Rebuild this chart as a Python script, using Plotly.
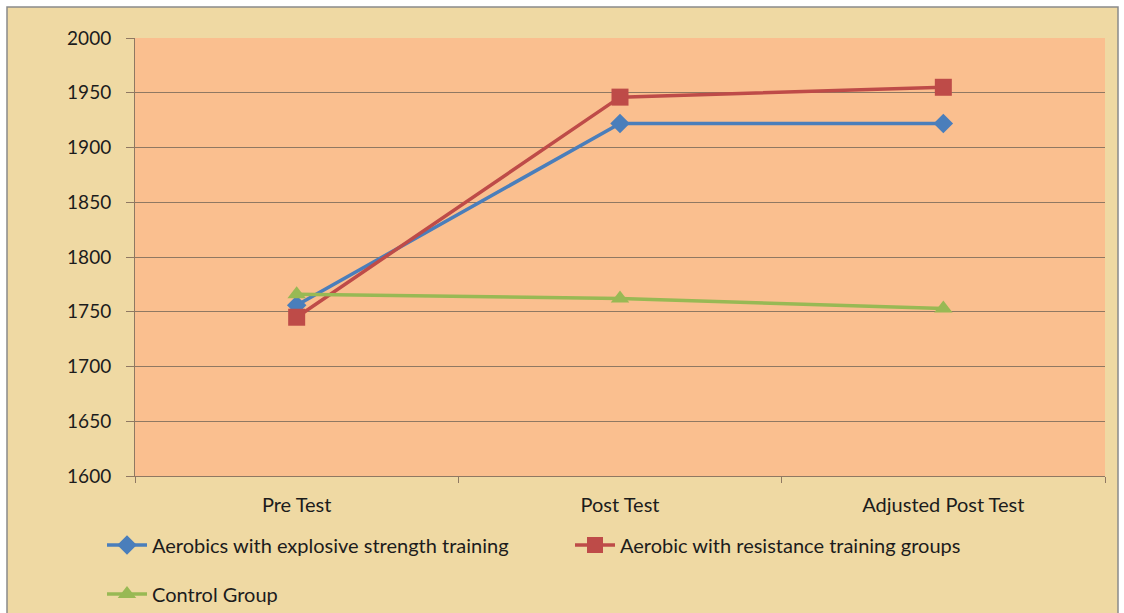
import plotly.graph_objects as go

# Test phases and mean scores per group
phases = ["Pre Test", "Post Test", "Adjusted Post Test"]
explosive = [1756, 1922, 1922]
resistance = [1745, 1946, 1955]
control = [1766, 1762, 1753]

y_ticks = [1600, 1650, 1700, 1750, 1800, 1850, 1900, 1950, 2000]

FONT = "Lato"
TEXT = "#1c1c1c"
GRID = "#8f7862"

fig = go.Figure()

fig.add_trace(go.Scatter(
    x=phases, y=explosive, mode="lines+markers",
    name="Aerobics with explosive strength training",
    line=dict(color="#4a7ebb", width=3.5),
    marker=dict(symbol="diamond", size=15, color="#4a7ebb"),
    legend="legend",
))
fig.add_trace(go.Scatter(
    x=phases, y=resistance, mode="lines+markers",
    name="Aerobic with resistance training groups",
    line=dict(color="#be4b48", width=3.5),
    marker=dict(symbol="square", size=17, color="#be4b48"),
    legend="legend",
))
fig.add_trace(go.Scatter(
    x=phases, y=control, mode="lines+markers",
    name="Control Group",
    line=dict(color="#98b954", width=3.5),
    marker=dict(symbol="triangle-up", size=16, color="#98b954"),
    legend="legend2",
))

W, H = 1124, 613
L, R, T, B = 135, 19, 38, 137
pw, ph = W - L - R, H - T - B
def px_x(p):
    return (p - L) / pw
def px_y(p):
    return 1 - (p - T) / ph

# thin white edge outside the grey chart frame
for x0, x1, y0, y1 in [(0, 7, 0, H), (1118, W, 0, H), (0, W, 0, 7)]:
    fig.add_shape(
        type="rect", xref="paper", yref="paper",
        x0=px_x(x0), x1=px_x(x1), y0=px_y(y1), y1=px_y(y0),
        fillcolor="white", line=dict(width=0), layer="above",
    )
fig.add_shape(
    type="rect", xref="paper", yref="paper",
    x0=px_x(7), x1=px_x(1118), y0=px_y(620), y1=px_y(7),
    fillcolor="rgba(0,0,0,0)", line=dict(color="#8a8a8a", width=1.5),
    layer="above",
)

legend_common = dict(
    orientation="h", bgcolor="rgba(0,0,0,0)",
    font=dict(family=FONT, size=20, color=TEXT),
    xref="container", yref="container",
    xanchor="left", yanchor="middle", itemwidth=40,
    entrywidth=413,
)

fig.update_layout(
    width=W, height=H,
    margin=dict(l=L, r=R, t=T, b=B, autoexpand=False),
    paper_bgcolor="#efd9a3",
    plot_bgcolor="#fabf8f",
    font=dict(family=FONT, size=19, color=TEXT),
    showlegend=True,
    legend=dict(x=102 / W, y=1 - 545 / H, **legend_common),
    legend2=dict(x=102 / W, y=1 - 594 / H, **legend_common),
    xaxis=dict(
        type="category", tickson="boundaries", ticks="outside", ticklen=6,
        tickcolor=GRID, showgrid=False, showline=True, linecolor=GRID,
        linewidth=1, tickfont=dict(family=FONT, size=20, color=TEXT),
        range=[-0.5, 2.5], zeroline=False, ticklabelstandoff=11,
    ),
    yaxis=dict(
        range=[1600, 2000], tickvals=y_ticks, ticks="outside", ticklen=8,
        tickcolor=GRID, showgrid=True, gridcolor=GRID, gridwidth=1,
        showline=True, linecolor=GRID, linewidth=1, zeroline=False,
        tickfont=dict(family=FONT, size=19, color=TEXT),
        ticklabelstandoff=11,
    ),
)

fig.write_html("out.html")
